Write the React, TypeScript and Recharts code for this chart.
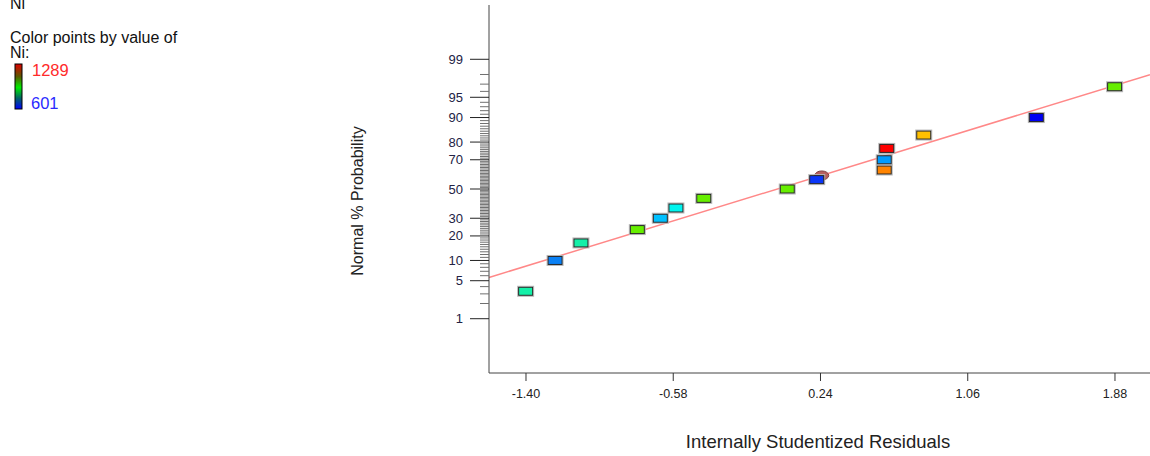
import React from 'react';
import {
  ScatterChart,
  Scatter,
  XAxis,
  YAxis,
  ReferenceLine,
} from 'recharts';

// residual (x) vs normal % probability, one entry per run
const residuals = [-1.402, -1.238, -1.094, -0.78, -0.652, -0.565, -0.41, 0.055, 0.219, 0.595, 0.595, 0.609, 0.815, 1.442, 1.878];
const probabilities = [3.33, 10, 16.67, 23.33, 30, 36.67, 43.33, 50, 56.67, 63.33, 70, 76.67, 83.33, 90, 96.67];
const pointColors = [
  '#14f0a8', '#0a80f4', '#14f0a8', '#66ee00', '#00c0ff', '#00f4ee', '#66ee00', '#66ee00',
  '#0a36f8', '#ff8400', '#009cff', '#ff0000', '#ffc000', '#0000f4', '#66ee00',
];

// the half-hidden round marker next to the 0.24 point
const extraResidual = [0.247];
const extraProbability = [59.6];

// fitted line end points
const fitResidual = [-1.606, 2.075];
const fitProbability = [5.63, 97.99];

const xTicks = [-1.4, -0.58, 0.24, 1.06, 1.88];
const majorPct = [1, 5, 10, 20, 30, 50, 70, 80, 90, 95, 99];
const minorPct = Array.from({ length: 99 }, (_, i) => i + 1);

const X_DOMAIN = [-1.606, 2.075];
const Y_DOMAIN = [-3.3, 3.3];

// inverse normal CDF (Acklam), p in 0..1
function probit(p: number) {
  const a = [-3.969683028665376e1, 2.209460984245205e2, -2.759285104469687e2, 1.38357751867269e2, -3.066479806614716e1, 2.506628277459239];
  const b = [-5.447609879822406e1, 1.615858368580409e2, -1.556989798598866e2, 6.680131188771972e1, -1.328068155288572e1];
  const c = [-7.784894002430293e-3, -3.223964580411365e-1, -2.400758277161838, -2.549732539343734, 4.374664141464968, 2.938163982698783];
  const d = [7.784695709041462e-3, 3.224671290700398e-1, 2.445134137142996, 3.754408661907416];
  const pl = 0.02425;
  if (p < pl) {
    const q = Math.sqrt(-2 * Math.log(p));
    return (((((c[0] * q + c[1]) * q + c[2]) * q + c[3]) * q + c[4]) * q + c[5]) / ((((d[0] * q + d[1]) * q + d[2]) * q + d[3]) * q + 1);
  }
  if (p > 1 - pl) {
    const q = Math.sqrt(-2 * Math.log(1 - p));
    return -(((((c[0] * q + c[1]) * q + c[2]) * q + c[3]) * q + c[4]) * q + c[5]) / ((((d[0] * q + d[1]) * q + d[2]) * q + d[3]) * q + 1);
  }
  const q = p - 0.5;
  const r = q * q;
  return ((((((a[0] * r + a[1]) * r + a[2]) * r + a[3]) * r + a[4]) * r + a[5]) * q) / (((((b[0] * r + b[1]) * r + b[2]) * r + b[3]) * r + b[4]) * r + 1);
}

const points = residuals.map((x, i) => ({
  x,
  z: probit(probabilities[i] / 100),
  color: pointColors[i],
}));
const extraPoints = extraResidual.map((x, i) => ({ x, z: probit(extraProbability[i] / 100) }));
const yTicks = minorPct.map((p) => probit(p / 100));

const FONT = 'Arial, "Liberation Sans", sans-serif';

const RectPoint = (props: any) => {
  const { cx, cy, payload } = props;
  if (cx == null || cy == null) return null;
  return (
    <g>
      <rect x={cx - 8} y={cy - 5} width={16} height={10} fill="none" stroke="#b8b8b8" strokeWidth={1} />
      <rect x={cx - 7} y={cy - 4} width={14} height={8} fill={payload.color} stroke="#262626" strokeWidth={1} />
    </g>
  );
};

const RoundPoint = (props: any) => {
  const { cx, cy } = props;
  if (cx == null || cy == null) return null;
  return <ellipse cx={cx} cy={cy} rx={7} ry={4.5} fill="#b86060" stroke="#804040" strokeWidth={1} />;
};

const YTick = (props: any) => {
  const { x, y, payload } = props;
  const pct = minorPct[payload.index];
  const major = majorPct.includes(pct);
  if (!major) {
    return <line x1={x - 9} x2={x} y1={y} y2={y} stroke="#707070" strokeWidth={1} />;
  }
  return (
    <g>
      <line x1={x - 19} x2={x} y1={y} y2={y} stroke="#222" strokeWidth={1} />
      <text x={x - 26} y={y} textAnchor="end" dominantBaseline="central" fontSize={13} fill="#222244" fontFamily={FONT}>
        {pct}
      </text>
    </g>
  );
};

export default function App() {
  return (
    <div style={{ position: 'absolute', left: 0, top: 0, width: 1150, height: 456, overflow: 'hidden', background: '#fff' }}>
      <ScatterChart
        width={1150}
        height={456}
        margin={{ top: 5, right: 0, left: 429, bottom: 53 }}
      >
        <XAxis
          type="number"
          dataKey="x"
          domain={X_DOMAIN}
          ticks={xTicks}
          allowDataOverflow
          height={30}
          tickFormatter={(v) => Number(v).toFixed(2)}
          tick={{ fontSize: 12.5, fill: '#222', fontFamily: FONT }}
          tickSize={8}
          tickMargin={8}
          stroke="#333"
          axisLine={{ stroke: '#444' }}
          tickLine={{ stroke: '#333' }}
        />
        <YAxis
          type="number"
          dataKey="z"
          domain={Y_DOMAIN}
          ticks={yTicks}
          interval={0}
          allowDataOverflow
          width={60}
          tickSize={0}
          tickMargin={0}
          tickLine={false}
          axisLine={{ stroke: '#444' }}
          tick={<YTick />}
        />
        <ReferenceLine
          segment={[
            { x: fitResidual[0], y: probit(fitProbability[0] / 100) },
            { x: fitResidual[1], y: probit(fitProbability[1] / 100) },
          ]}
          stroke="#ff8888"
          strokeWidth={1.5}
          ifOverflow="visible"
        />
        <Scatter data={extraPoints} shape={<RoundPoint />} isAnimationActive={false} />
        <Scatter data={points} shape={<RectPoint />} isAnimationActive={false} />
      </ScatterChart>

      <svg width={1150} height={456} style={{ position: 'absolute', left: 0, top: 0, pointerEvents: 'none' }}>
        <defs>
          <linearGradient id="niGrad" x1="0" y1="0" x2="0" y2="1">
            <stop offset="0%" stopColor="#e00000" />
            <stop offset="28%" stopColor="#5a5a00" />
            <stop offset="52%" stopColor="#00ee00" />
            <stop offset="76%" stopColor="#006464" />
            <stop offset="100%" stopColor="#0000ff" />
          </linearGradient>
        </defs>
        <text x={10} y={9} fontSize={16} fill="#111" fontFamily={FONT}>Ni</text>
        <text x={10} y={43} fontSize={16} fill="#111" fontFamily={FONT}>Color points by value of</text>
        <text x={10} y={58} fontSize={16} fill="#111" fontFamily={FONT}>Ni:</text>
        <rect x={15} y={64} width={7} height={45} fill="url(#niGrad)" stroke="#000" strokeWidth={1} />
        <text x={32} y={76} fontSize={16.5} fill="#ff2a2a" fontFamily={FONT}>1289</text>
        <text x={31} y={109} fontSize={16.5} fill="#2a2aff" fontFamily={FONT}>601</text>

        <text
          x={363}
          y={201}
          fontSize={16}
          fill="#222"
          fontFamily={FONT}
          textAnchor="middle"
          transform="rotate(-90 363 201)"
        >
          Normal % Probability
        </text>
        <text x={818} y={448} fontSize={18.5} fill="#222" fontFamily={FONT} textAnchor="middle">
          Internally Studentized Residuals
        </text>
      </svg>
    </div>
  );
}
